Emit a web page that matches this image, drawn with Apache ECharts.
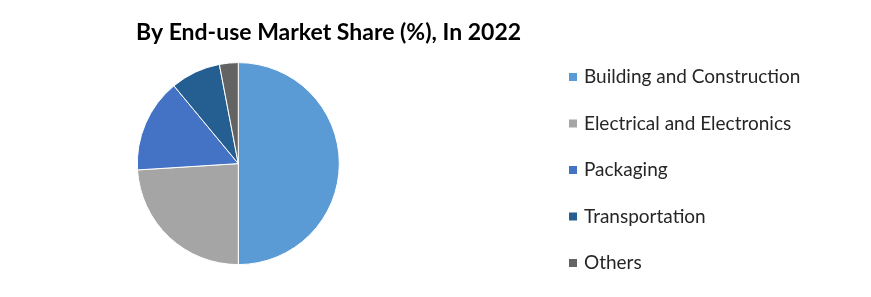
<!DOCTYPE html>
<html>
<head>
<meta charset="utf-8">
<script src="https://cdn.jsdelivr.net/npm/echarts@6/dist/echarts.min.js"></script>
<style>html,body{margin:0;padding:0;background:#fff;}#c{width:871px;height:297px;}</style>
</head>
<body>
<div id="c"></div>
<script>
const categories = ['Building and Construction', 'Electrical and Electronics', 'Packaging', 'Transportation', 'Others'];
const shares = [50, 24, 15, 8, 3];
const colors = ['#5B9BD5', '#A5A5A5', '#4472C4', '#255E91', '#636363'];
const titleText = 'By End-use Market Share (%), In 2022';

const chart = echarts.init(document.getElementById('c'));
chart.setOption({
  animation: false,
  backgroundColor: '#fff',
  title: {
    text: titleText,
    left: 136,
    top: 21,
    padding: 0,
    textStyle: { fontFamily: 'Lato', fontWeight: 'bold', fontSize: 23, color: '#000' }
  },
  legend: {
    orient: 'vertical',
    left: 567,
    top: 67,
    padding: 0,
    itemWidth: 10,
    itemHeight: 10,
    itemGap: 26.5,
    icon: 'rect',
    textStyle: { fontFamily: 'Lato', fontSize: 19, color: '#262626', lineHeight: 20, padding: [0, 0, 0, 1] },
    data: categories
  },
  series: [{
    type: 'pie',
    center: [238.3, 163.6],
    radius: 101,
    startAngle: 90,
    clockwise: true,
    label: { show: false },
    labelLine: { show: false },
    emphasis: { disabled: true },
    itemStyle: { borderColor: '#fff', borderWidth: 1 },
    data: categories.map((n, i) => ({ name: n, value: shares[i], itemStyle: { color: colors[i] } }))
  }]
});
</script>
</body>
</html>
